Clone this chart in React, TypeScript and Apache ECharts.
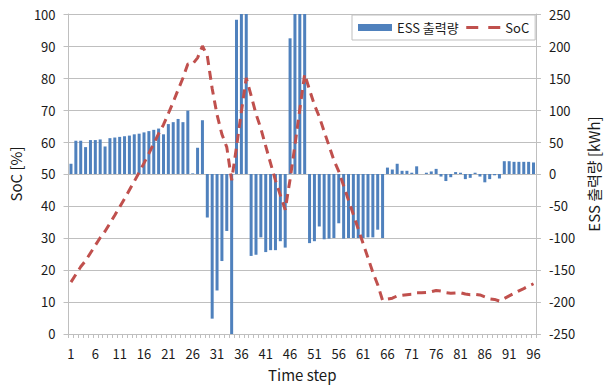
import React, { useEffect, useRef } from "react";
import * as echarts from "echarts";

// Time steps 1..96
const timeSteps: string[] = Array.from({ length: 96 }, (_, i) => String(i + 1));

// ESS output per time step [kWh] (positive = charging, negative = discharging)
const essOutput: number[] = [
  16, 52, 52, 42, 53, 53, 54, 43, 56, 57, 58, 59, 60, 62, 63, 65, 67, 69, 71, 62,
  78, 81, 86, 81, 99, 1, 41, 84,
  -68, -226, -182, -136, -89, -250,
  241, 255, 255,
  -128, -126, -99, -122, -119, -119, -105, -115,
  212, 255, 255, 255,
  -108, -105, -82, -102, -101, -100, -77, -101, -100, -100, -100, -100, -99, -99, -87, -100,
  10, 7, 16, 5, 5, 2, 12, 0, 2, 4, 8, -4, -11, -5, 3, 2, -8, -6, 2, -4,
  -13, -8, -2, -7, 20, 20, 19, 19, 19, 19, 18,
];

// State of charge per time step [%]
const socLevel: number[] = [
  16.2, 18.6, 21.0, 22.9, 25.3, 27.7, 30.1, 32.1, 34.6, 37.1, 39.7, 42.3, 45.0, 47.7,
  50.5, 53.4, 56.4, 59.5, 62.6, 65.4, 68.9, 72.5, 76.3, 80.0, 84.4, 84.4, 86.3, 90.0,
  86.9, 76.7, 68.5, 62.4, 58.4, 48.0,
  58.5, 69.5, 80.0,
  74.5, 68.8, 64.2, 58.7, 53.3, 48.0, 43.4, 38.8,
  48.3, 59.0, 70.2, 81.2,
  76.3, 71.6, 67.9, 63.3, 58.8, 54.3, 50.8, 46.3, 41.8, 37.3, 32.8, 28.3, 23.8, 19.3, 15.4, 10.5,
  10.9, 11.2, 11.9, 12.1, 12.3, 12.4, 12.9, 12.9, 13.0, 13.2, 13.6, 13.4, 12.9, 12.7, 12.8,
  12.9, 12.5, 12.3, 12.4, 12.2, 11.6, 11.0, 10.8, 10.3, 11.1, 11.9, 12.7, 13.5, 14.2, 15.0, 15.7,
];

const FONT = "'Noto Sans CJK KR', 'Noto Sans', sans-serif";
const TEXT = "#1a1a1a";
const GRID_GRAY = "#bfbfbf";
const BAR_BLUE = "#4F81BD";
const LINE_RED = "#C0504D";

export default function App() {
  const ref = useRef<HTMLDivElement>(null);

  useEffect(() => {
    if (!ref.current) return;
    const chart = echarts.init(ref.current, undefined, { renderer: "svg" });
    chart.setOption({
      animation: false,
      backgroundColor: "#ffffff",
      textStyle: { fontFamily: FONT, color: TEXT },
      grid: { left: 62, right: 63, top: 14, bottom: 50, containLabel: false },
      legend: {
        left: 352,
        top: 15,
        padding: [6, 6, 6, 6],
        borderColor: GRID_GRAY,
        borderWidth: 1,
        backgroundColor: "#ffffff",
        itemGap: 6,
        itemWidth: 34,
        itemHeight: 7,
        textStyle: { fontFamily: FONT, fontSize: 13, color: TEXT },
        data: [
          { name: "ESS 출력량", icon: "rect" },
          {
            name: "SoC",
            itemStyle: { opacity: 0 },
            lineStyle: { color: LINE_RED, width: 3, type: [12, 10] },
          },
        ],
      },
      xAxis: {
        type: "category",
        data: timeSteps,
        boundaryGap: true,
        name: "Time step",
        nameLocation: "middle",
        nameGap: 33,
        nameTextStyle: { fontFamily: FONT, fontSize: 15, color: TEXT },
        axisLine: { show: true, lineStyle: { color: GRID_GRAY, width: 1 } },
        axisTick: { show: true, interval: 0, length: 4, lineStyle: { color: GRID_GRAY } },
        axisLabel: { interval: 4, margin: 13, fontSize: 13, color: TEXT, fontFamily: FONT },
        splitLine: { show: false },
      },
      yAxis: [
        {
          type: "value",
          min: 0,
          max: 100,
          interval: 10,
          name: "SoC [%]",
          nameLocation: "middle",
          nameGap: 40,
          nameRotate: 90,
          nameTextStyle: { fontFamily: FONT, fontSize: 15, color: TEXT },
          axisLine: { show: true, lineStyle: { color: GRID_GRAY, width: 1 } },
          axisTick: { show: true, length: 5, lineStyle: { color: GRID_GRAY } },
          axisLabel: { margin: 13, fontSize: 13, color: TEXT, fontFamily: FONT },
          splitLine: { show: true, lineStyle: { color: GRID_GRAY, width: 1 } },
        },
        {
          type: "value",
          min: -250,
          max: 250,
          interval: 50,
          position: "right",
          name: "ESS 출력량 [kWh]",
          nameLocation: "middle",
          nameGap: 44,
          nameRotate: 90,
          nameTextStyle: { fontFamily: FONT, fontSize: 15, color: TEXT },
          axisLine: { show: true, lineStyle: { color: GRID_GRAY, width: 1 } },
          axisTick: { show: true, length: 5, lineStyle: { color: GRID_GRAY } },
          axisLabel: { margin: 13, fontSize: 13, color: TEXT, fontFamily: FONT },
          splitLine: { show: false },
        },
      ],
      series: [
        {
          name: "ESS 출력량",
          type: "bar",
          yAxisIndex: 1,
          data: essOutput,
          barWidth: 3,
          clip: true,
          itemStyle: { color: BAR_BLUE },
        },
        {
          name: "SoC",
          type: "line",
          yAxisIndex: 0,
          data: socLevel,
          symbol: "none",
          showSymbol: false,
          smooth: false,
          z: 3,
          lineStyle: { color: LINE_RED, width: 3, type: [9, 6] },
          itemStyle: { color: LINE_RED },
        },
      ],
    });
    return () => chart.dispose();
  }, []);

  return (
    <div
      ref={ref}
      style={{ position: "fixed", left: 0, top: 0, width: 609, height: 387 }}
    />
  );
}
